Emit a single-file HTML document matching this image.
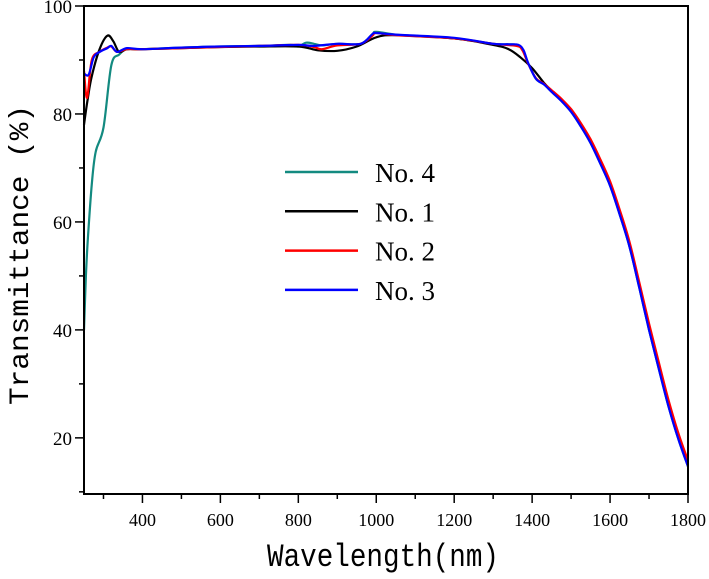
<!DOCTYPE html>
<html><head><meta charset="utf-8"><style>
html,body{margin:0;padding:0;background:#fff;}
svg text{font-family:"Liberation Serif","Noto Serif CJK SC",serif;}
</style></head><body>
<svg id="chart" width="709" height="574" xmlns="http://www.w3.org/2000/svg">
<g id="marks"></g>
<g id="axes"></g>
<g id="legend"></g>
<text x="383" y="566" text-anchor="middle" font-size="32" style="font-family:'Liberation Mono','Noto Serif CJK SC',monospace" textLength="232" lengthAdjust="spacingAndGlyphs">Wavelength(nm)</text>
<text transform="translate(28,255) rotate(-90)" text-anchor="middle" font-size="28" style="font-family:'Liberation Mono','Noto Serif CJK SC',monospace" textLength="300" lengthAdjust="spacingAndGlyphs">Transmittance (%)</text>
</svg>
<script>
const seriesNames = ["No.4","No.1","No.2","No.3"];
const seriesColors = ["#138a80","#000000","#ff0000","#0000ff"];
const xTicks = [400,600,800,1000,1200,1400,1600,1800];
const yTicks = [20,40,60,80,100];
const no4 = [[250,40],[255,50],[260,57],[270,67],[280,73],[300,77.5],[320,89],[340,91],[360,92],[400,92],[500,92.3],[600,92.5],[700,92.6],[780,92.8],[800,92.5],[820,93.2],[840,93],[860,92.7],[900,93],[960,93],[990,94.8],[1000,95.2],[1050,94.7],[1100,94.4],[1200,94],[1300,93],[1340,92.9],[1360,92.8],[1375,92],[1390,89.4],[1410,86.5],[1430,85.5],[1450,84.1],[1475,82.4],[1500,80.4],[1525,77.7],[1550,74.6],[1575,70.8],[1600,66.7],[1625,61.3],[1650,55.4],[1675,47.8],[1700,40],[1725,32.8],[1750,25.8],[1775,19.8],[1800,14.7]];
const no1 = [[250,78],[260,83],[270,87],[290,92],[310,94.5],[325,93.5],[340,91.5],[360,92],[400,92],[500,92.2],[600,92.4],[700,92.5],[800,92.5],[850,91.8],[900,91.7],[950,92.5],[1000,94.2],[1050,94.6],[1200,94],[1300,92.8],[1340,92],[1370,90.5],[1400,88.5],[1430,85.8],[1450,84.3],[1475,82.6],[1500,80.6],[1525,78],[1550,75],[1575,71.3],[1600,67.2],[1625,61.9],[1650,56],[1675,48.5],[1700,40.8],[1725,33.6],[1750,26.6],[1775,20.5],[1800,15.3]];
const no2 = [[250,88],[258,83],[270,90],[290,91.5],[310,92.3],[320,92.5],[335,91.5],[360,92],[400,92],[500,92.2],[600,92.4],[700,92.6],[800,92.8],[840,92.4],[860,92],[900,92.7],[960,93],[990,94.5],[1000,95],[1050,94.6],[1200,94],[1300,93],[1360,92.6],[1375,91.8],[1390,89.3],[1410,86.6],[1430,85.6],[1450,84.4],[1475,82.8],[1500,80.9],[1525,78.3],[1550,75.3],[1575,71.6],[1600,67.5],[1625,62.2],[1650,56.3],[1675,48.8],[1700,41.2],[1725,34],[1750,27],[1775,20.9],[1800,15.8]];
const no3 = [[250,87.5],[262,87.3],[275,90.5],[290,91.5],[310,92.2],[320,92.6],[335,91.5],[360,92.2],[400,92],[500,92.3],[600,92.5],[700,92.6],[800,92.8],[840,92.6],[900,93],[960,93],[990,94.8],[1000,95],[1050,94.7],[1200,94.1],[1300,93],[1340,92.9],[1365,92.8],[1378,91.8],[1390,89.4],[1410,86.5],[1430,85.5],[1450,84.1],[1475,82.4],[1500,80.4],[1525,77.7],[1550,74.6],[1575,70.8],[1600,66.7],[1625,61.3],[1650,55.4],[1675,47.8],[1700,40],[1725,32.8],[1750,25.8],[1775,19.8],[1800,14.7]];
const allSeries = [no4,no1,no2,no3];

const X0=84,X1=688,Y0=6,Y1=494, xmin=250,xmax=1800,ymin=9.6,ymax=100;
function sx(v){return X0+(v-xmin)/(xmax-xmin)*(X1-X0);}
function sy(v){return Y0+(ymax-v)/(ymax-ymin)*(Y1-Y0);}
const NS="http://www.w3.org/2000/svg";
function mk(tag,attrs,parent){const e=document.createElementNS(NS,tag);for(const k in attrs)e.setAttribute(k,attrs[k]);parent.appendChild(e);return e;}
function smoothPath(pts){
  const P=pts.map(d=>[sx(d[0]),sy(d[1])]);
  let d='M'+P[0][0].toFixed(1)+','+P[0][1].toFixed(1);
  for(let i=0;i<P.length-1;i++){
    const p0=P[i-1]||P[i],p1=P[i],p2=P[i+1],p3=P[i+2]||P[i+1];
    const c1=[p1[0]+(p2[0]-p0[0])/6,p1[1]+(p2[1]-p0[1])/6];
    const c2=[p2[0]-(p3[0]-p1[0])/6,p2[1]-(p3[1]-p1[1])/6];
    d+='C'+c1[0].toFixed(1)+','+c1[1].toFixed(1)+' '+c2[0].toFixed(1)+','+c2[1].toFixed(1)+' '+p2[0].toFixed(1)+','+p2[1].toFixed(1);
  }
  return d;
}
const marks=document.getElementById('marks'),axes=document.getElementById('axes'),legend=document.getElementById('legend');
allSeries.forEach((s,i)=>{
  const p=mk('path',{d:smoothPath(s),fill:'none',stroke:seriesColors[i],'stroke-width':2.2,'stroke-linejoin':'round'},marks);
  
  
});
const frame=mk('rect',{x:X0,y:Y0,width:X1-X0,height:Y1-Y0,fill:'none',stroke:'#000','stroke-width':2},axes);


for(let v=300;v<=1800;v+=100){
  const major=xTicks.includes(v);
  const t=mk('line',{x1:sx(v),x2:sx(v),y1:Y1,y2:Y1+(major?9:5),stroke:'#000','stroke-width':1.5},axes);
  
  
}
xTicks.forEach(v=>{
  const t=mk('text',{x:sx(v),y:Y1+32,'text-anchor':'middle','font-size':18},axes);
  t.textContent=v;
  
  
});
for(let v=10;v<=100;v+=10){
  const major=yTicks.includes(v);
  const t=mk('line',{x1:X0,x2:X0-(major?9:5),y1:sy(v),y2:sy(v),stroke:'#000','stroke-width':1.5},axes);
  
  
}
yTicks.forEach(v=>{
  const t=mk('text',{x:X0-12,y:sy(v)+7,'text-anchor':'end','font-size':19},axes);
  t.textContent=v;
  
  
});
seriesNames.forEach((n,i)=>{
  const y=172+i*39.3;
  const l=mk('line',{x1:285,x2:358,y1:y,y2:y,stroke:seriesColors[i],'stroke-width':2.5},legend);
  
  
  const t=mk('text',{x:375,y:y+10,'font-size':27},legend);
  t.textContent=n.replace('.','. ');
  
  
});
</script>
</body></html>
